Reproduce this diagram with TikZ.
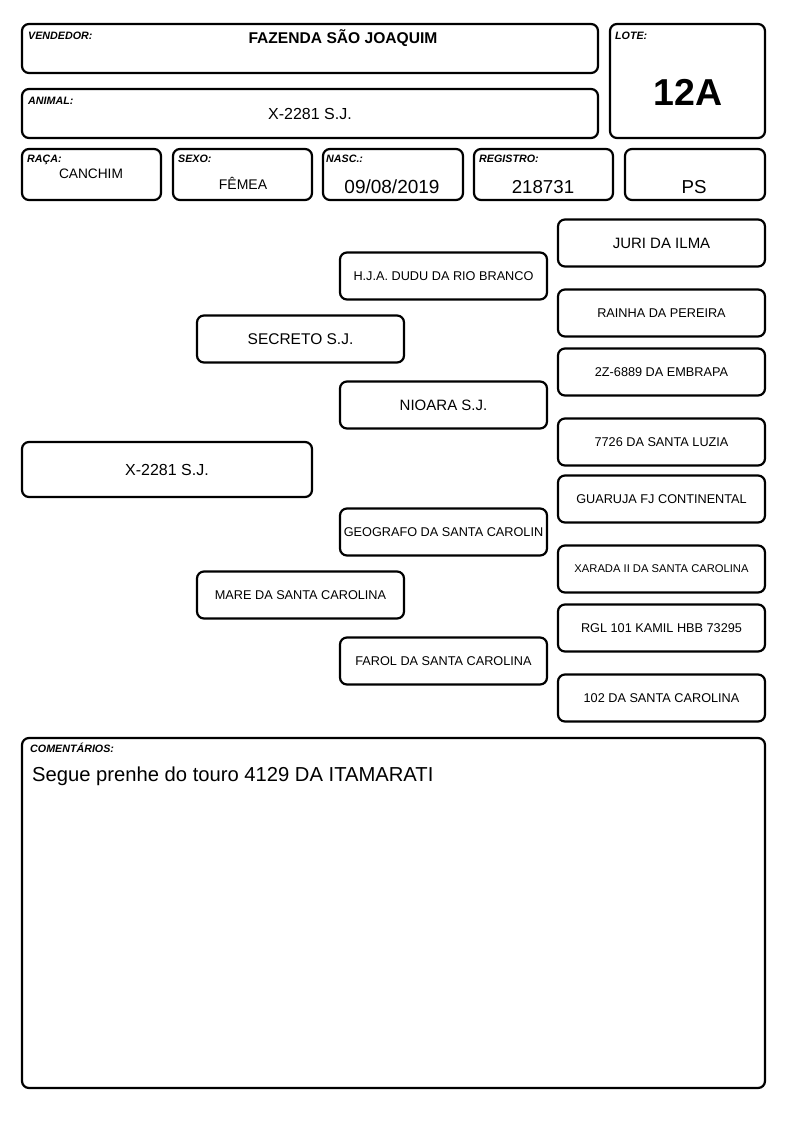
\documentclass[tikz,border=0pt]{standalone}
\usepackage{fontspec}
\setmainfont{Liberation Sans}
\usepackage{tikz}
\usetikzlibrary{positioning}

\tikzset{
  box/.style={draw, line width=2.2pt, rounded corners=7pt, inner sep=0pt},
  pedbox/.style={box, minimum width=207pt, minimum height=47pt},
  lbl/.style={anchor=base west, inner sep=0pt, font=\fontsize{10.7}{12}\selectfont\bfseries\itshape},
  val/.style={anchor=base, inner sep=0pt, font=\fontsize{14}{16}\selectfont},
  big/.style={font=\fontsize{15.5}{18}\selectfont},
  small/.style={font=\fontsize{12.7}{15}\selectfont}
}

\begin{document}
\begin{tikzpicture}[x=1pt,y=-1pt]
\useasboundingbox (0,0) rectangle (794,1123);

% header
\node[box, minimum width=576pt, minimum height=49pt] (vendedor) at (310,48.5) {};
\node[box, minimum width=155pt, minimum height=114pt] (lote) at (687.5,81) {};
\node[box, minimum width=576pt, minimum height=49pt] (animal) at (310,113.5) {};
\node[box, minimum width=139pt, minimum height=51pt] (raca) at (91.5,174.5) {};
\node[box, minimum width=139pt, minimum height=51pt] (sexo) at (242.5,174.5) {};
\node[box, minimum width=140pt, minimum height=51pt] (nasc) at (393,174.5) {};
\node[box, minimum width=139pt, minimum height=51pt] (registro) at (543.5,174.5) {};
\node[box, minimum width=140pt, minimum height=51pt] (ps) at (695,174.5) {};

\node[lbl] (vendedorlbl) at (28,39.5) {VENDEDOR:};
\node[lbl] (lotelbl) at (615,39.5) {LOTE:};
\node[lbl] (animallbl) at (28,104.5) {ANIMAL:};
\node[lbl] (racalbl) at (27,163) {RAÇA:};
\node[lbl] (sexolbl) at (178,163) {SEXO:};
\node[lbl] (nasclbl) at (326,163) {NASC.:};
\node[lbl] (registrolbl) at (479,163) {REGISTRO:};

\node[val, font=\fontsize{15.6}{18}\selectfont\bfseries] (vendedorval) at (343,43.5) {FAZENDA SÃO JOAQUIM};
\node[val, font=\fontsize{37.5}{40}\selectfont\bfseries] (loteval) at (688,106) {12A};
\node[val, font=\fontsize{16}{18}\selectfont] (animalval) at (310,119.3) {X-2281 S.J.};
\node[val, font=\fontsize{13.7}{16}\selectfont] (racaval) at (91,178.3) {CANCHIM};
\node[val] (sexoval) at (243,189.3) {FÊMEA};
\node[val, font=\fontsize{19}{21}\selectfont] (nascval) at (392,193.3) {09/08/2019};
\node[val, font=\fontsize{18.7}{21}\selectfont] (registroval) at (543,193.3) {218731};
\node[val, font=\fontsize{18.7}{21}\selectfont] (psval) at (694,193.3) {PS};

% pedigree
\node[box, minimum width=290pt, minimum height=55pt, font=\fontsize{16}{18}\selectfont] (x2281) at (167,469.5) {X-2281 S.J.};

\node[pedbox, big] (secreto) at (300.5,339) {SECRETO S.J.};
\node[pedbox, small] (mare) at (300.5,595) {MARE DA SANTA CAROLINA};

\node[pedbox, small] (dudu) at (443.5,276) {H.J.A. DUDU DA RIO BRANCO};
\node[pedbox, font=\fontsize{15}{18}\selectfont] (nioara) at (443.5,405) {NIOARA S.J.};
\node[pedbox, small] (geografo) at (443.5,532) {GEOGRAFO DA SANTA CAROLIN};
\node[pedbox, small] (farol) at (443.5,661) {FAROL DA SANTA CAROLINA};

\node[pedbox, font=\fontsize{15}{18}\selectfont] (juri) at (661.5,243) {JURI DA ILMA};
\node[pedbox, small] (rainha) at (661.5,313) {RAINHA DA PEREIRA};
\node[pedbox, small] (embrapa) at (661.5,372) {2Z-6889 DA EMBRAPA};
\node[pedbox, small] (luzia) at (661.5,442) {7726 DA SANTA LUZIA};
\node[pedbox, small] (guaruja) at (661.5,499) {GUARUJA FJ CONTINENTAL};
\node[pedbox, font=\fontsize{11.2}{13}\selectfont] (xarada) at (661.5,569) {XARADA II DA SANTA CAROLINA};
\node[pedbox, small] (kamil) at (661.5,628) {RGL 101 KAMIL HBB 73295};
\node[pedbox, small] (carolina) at (661.5,698) {102 DA SANTA CAROLINA};

% comentarios
\node[box, minimum width=743pt, minimum height=350pt] (coment) at (393.5,913) {};
\node[lbl] (comentlbl) at (30,752.5) {COMENTÁRIOS:};
\node[anchor=base west, inner sep=0pt, font=\fontsize{20.2}{24}\selectfont] (comentval) at (32,781) {Segue prenhe do touro 4129 DA ITAMARATI};
\end{tikzpicture}
\end{document}
